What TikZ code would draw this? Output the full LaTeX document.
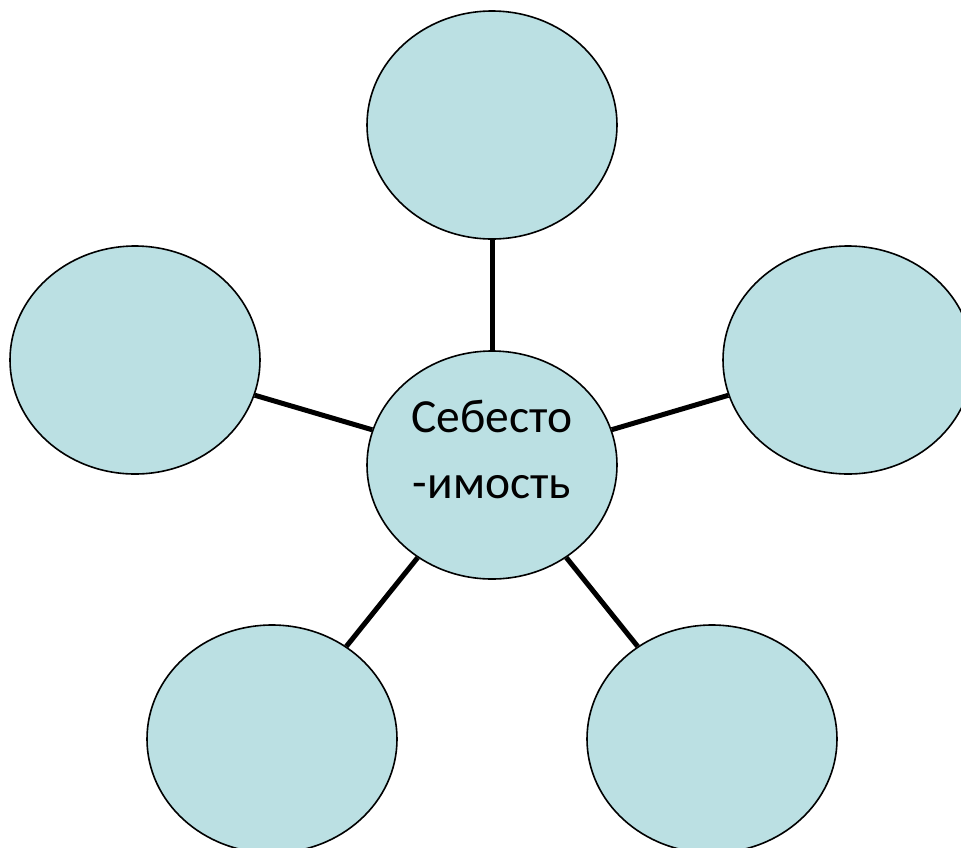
\documentclass[tikz,border=0pt]{standalone}
\usepackage{fontspec}
\setmainfont{Carlito}
\usetikzlibrary{shapes.geometric}
\definecolor{bubblefill}{RGB}{187,224,227}
\begin{document}
\begin{tikzpicture}[x=1pt,y=-1pt,
  bubble/.style={ellipse,draw=black,line width=1.6pt,fill=bubblefill,
    minimum width=250pt,minimum height=228pt,inner sep=0pt},
  spoke/.style={line width=5pt},
  lbl/.style={font=\fontsize{47.5}{66}\selectfont,align=center,inner sep=0pt}]
\useasboundingbox (0,0) rectangle (961,847);
\clip (0,0) rectangle (961,847);
\node[bubble] (c) at (492,465) {};
\node[bubble] (t) at (492,125) {};
\node[bubble] (l) at (135,360) {};
\node[bubble] (r) at (848,360) {};
\node[bubble] (bl) at (272,739) {};
\node[bubble] (br) at (712,739) {};
\node[lbl] (ctext) at (492,449) {Себесто\\-имость};
\foreach \n in {t,l,r,bl,br} \draw[spoke] (c) -- (\n);
\end{tikzpicture}
\end{document}
